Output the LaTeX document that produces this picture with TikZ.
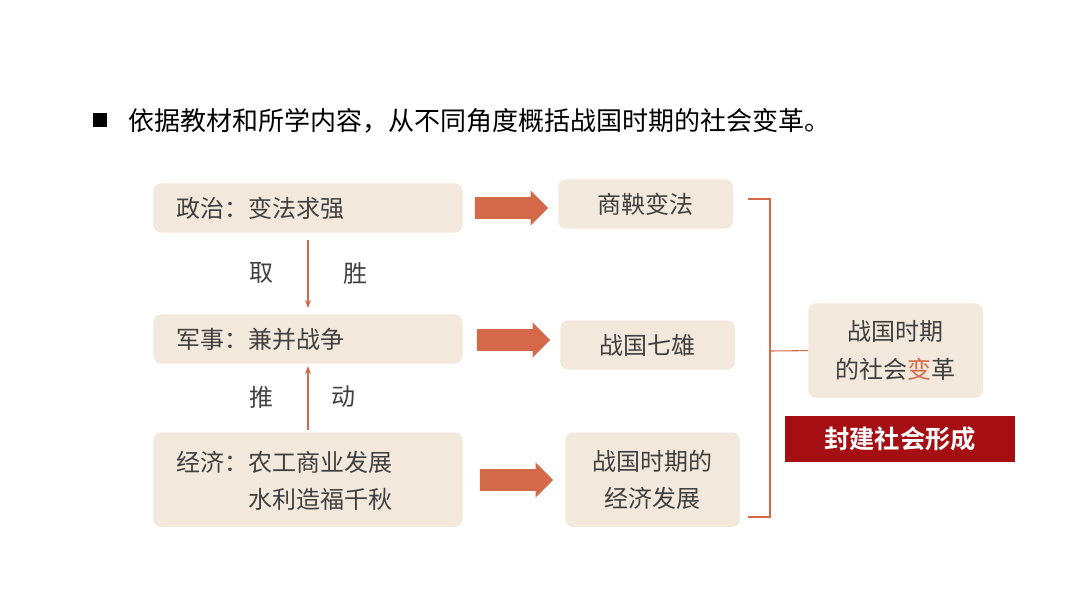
\documentclass[tikz,border=0pt]{standalone}
\usepackage{fontspec}
\newfontfamily\cjk{Noto Sans CJK SC}
\newfontfamily\cjkb{Noto Sans CJK SC Bold}
\usetikzlibrary{positioning,shapes.arrows,arrows.meta}
\definecolor{boxfill}{HTML}{F3E8DC}
\definecolor{arrowred}{HTML}{D4694A}
\definecolor{textgray}{HTML}{404040}
\definecolor{darkred}{HTML}{A50E12}
\tikzset{
  box/.style={fill=boxfill, rounded corners=6pt, text=textgray, font=\cjk\fontsize{18}{28}\selectfont, inner sep=0pt},
  bigarrow/.style={single arrow, fill=arrowred, draw=none, minimum height=55pt, inner xsep=0pt, inner ysep=8pt, single arrow head extend=5pt, single arrow tip angle=90},
  thin/.style={arrowred, line width=0.8pt},
  lbl/.style={text=textgray, font=\cjk\fontsize{18}{28}\selectfont}
}
\begin{document}
\begin{tikzpicture}[x=0.75pt,y=-0.75pt]
  \useasboundingbox (0,0) rectangle (1080,608);

  \fill (93,113) rectangle (107,127);
  \node[anchor=west, text=black, font=\cjk\fontsize{19.5}{24}\selectfont, inner sep=0pt] (title) at (128,121)
    {依据教材和所学内容，从不同角度概括战国时期的社会变革。};

  \node[box, minimum width=232pt, minimum height=37pt, anchor=north west] (zz) at (153,183) {};
  \node[lbl, anchor=west] at (172,208) {政治：变法求强};
  \node[box, minimum width=232pt, minimum height=37pt, anchor=north west] (js) at (153,314) {};
  \node[lbl, anchor=west] at (172,339) {军事：兼并战争};
  \node[box, minimum width=232pt, minimum height=71pt, anchor=north west] (jj) at (153,432) {};
  \node[lbl, anchor=west, align=left] at (172,481) {经济：农工商业发展\\\phantom{经济：}水利造福千秋};

  \node[box, minimum width=131pt, minimum height=37pt, anchor=north west] (sy) at (558,179) {商鞅变法};
  \node[box, minimum width=131pt, minimum height=37pt, anchor=north west] (zg) at (560,320) {战国七雄};
  \node[box, minimum width=131pt, minimum height=71pt, anchor=north west, align=center] (fz) at (565,432) {战国时期的\\经济发展};
  \node[box, minimum width=131pt, minimum height=71pt, anchor=north west, align=center] (bg) at (808,303) {战国时期\\的社会{\color{arrowred}变}革};

  \node[fill=darkred, text=white, font=\cjkb\fontsize{19}{22}\selectfont, minimum width=172pt, minimum height=34pt, inner sep=0pt] (fj) at (900,439) {封建社会形成};

  \node[bigarrow] (a1) at (506,208) {};
  \node[bigarrow] (a2) at (508,340) {};
  \node[bigarrow] (a3) at (511,480) {};

  \coordinate (t1) at (308,240);
  \coordinate (t2) at (308,308);
  \coordinate (b1) at (308,430);
  \coordinate (b2) at (308,366);
  \draw[thin, -{Stealth[length=6pt]}] (t1) -- (t2);
  \draw[thin, -{Stealth[length=6pt]}] (b1) -- (b2);
  \node[lbl] (qu) at (261,273) {取};
  \node[lbl] (sheng) at (355,273) {胜};
  \node[lbl] (tui) at (261,397) {推};
  \node[lbl] (dong) at (343,397) {动};

  % bracket
  \coordinate (k1) at (748,199);
  \coordinate (k2) at (748,517);
  \draw[thin] (k1) -- (770,199) -- (770,517) -- (k2);
  \draw[thin] (770,351) -- (bg.west);
\end{tikzpicture}
\end{document}
